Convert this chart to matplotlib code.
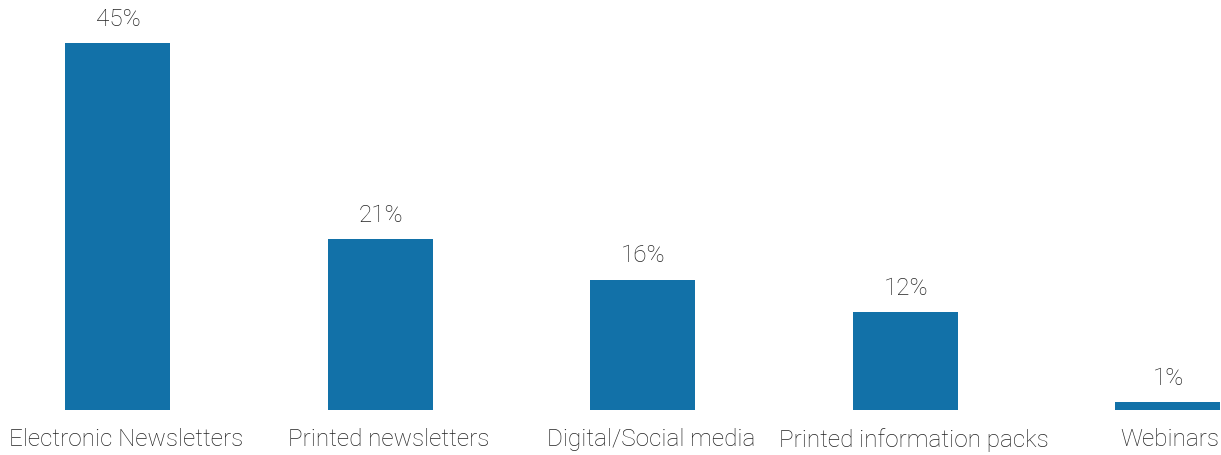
import matplotlib
matplotlib.use("Agg")
import matplotlib.pyplot as plt
from matplotlib.transforms import ScaledTranslation

categories = ["Electronic Newsletters", "Printed newsletters", "Digital/Social media",
              "Printed information packs", "Webinars"]
values = [45, 21, 16, 12, 1]
value_labels = ["45%", "21%", "16%", "12%", "1%"]

W, H, DPI = 1221, 456, 100
fig = plt.figure(figsize=(W / DPI, H / DPI), dpi=DPI)

bottom_px = 45
ax = fig.add_axes([0, bottom_px / H, 1, 1 - bottom_px / H])

spacing = 262.5
first_center = 117.5
x_left = -first_center / spacing
x_right = len(categories) - 1 + (W - (first_center + spacing * (len(categories) - 1))) / spacing
px_per_unit = 367 / 45
y_top = (H - bottom_px) / px_per_unit

bar_color = "#1271a8"
text_color = "#222222"
font = ["Roboto", "DejaVu Sans"]

xs = list(range(len(categories)))
ax.bar(xs, values, width=0.4, color=bar_color)
ax.set_xlim(x_left, x_right)
ax.set_ylim(0, y_top)

for x, v, lab in zip(xs, values, value_labels):
    ax.annotate(lab, (x, v), xytext=(0.5, 9.5), textcoords="offset points",
                ha="center", va="bottom", fontsize=17.5, color=text_color,
                family=font, fontweight="light")

ax.set_xticks(xs)
ax.set_xticklabels(categories, fontsize=17.5, color=text_color, family=font,
                   fontweight="light")
ax.tick_params(axis="x", length=0, pad=12)
# nudge category labels slightly right, keeping the last one inside the figure
ticklabels = ax.get_xticklabels()
for i, t in enumerate(ticklabels):
    dx = 2 / DPI if i == len(ticklabels) - 1 else 9 / DPI
    t.set_transform(t.get_transform() + ScaledTranslation(dx, 0, fig.dpi_scale_trans))
ax.set_yticks([])
for s in ax.spines.values():
    s.set_visible(False)

fig.savefig("out.png", dpi=DPI)
